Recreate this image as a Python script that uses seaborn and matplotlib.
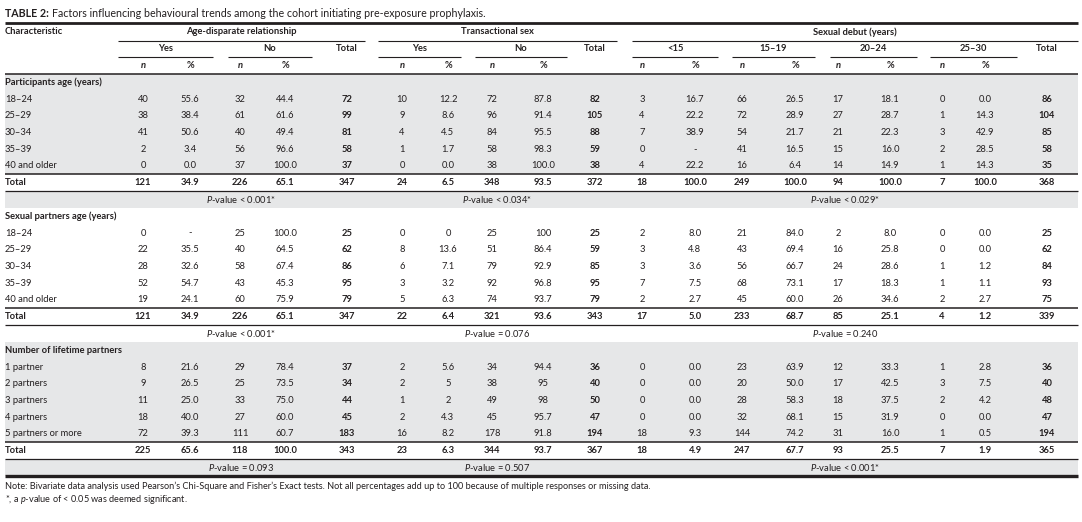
import matplotlib
matplotlib.use("Agg")
import matplotlib.pyplot as plt
import seaborn as sns
from matplotlib import font_manager

# ---------------- data ----------------
title_bold = "TABLE 2:"
title_rest = "Factors influencing behavioural trends among the cohort initiating pre-exposure prophylaxis."

groups = ["Age-disparate relationship", "Transactional sex", "Sexual debut (years)"]
sub_age = ["Yes", "No"]
sub_trans = ["Yes", "No"]
sub_debut = ["<15", "15\u201319", "20\u201324", "25\u201330"]

sec1_title = "Participants age (years)"
sec1_rows = ["18\u201324", "25\u201329", "30\u201334", "35\u201339", "40 and older", "Total"]
sec1_age_yes_n = ["40", "38", "41", "2", "0", "121"]
sec1_age_yes_p = ["55.6", "38.4", "50.6", "3.4", "0.0", "34.9"]
sec1_age_no_n = ["32", "61", "40", "56", "37", "226"]
sec1_age_no_p = ["44.4", "61.6", "49.4", "96.6", "100.0", "65.1"]
sec1_age_tot = ["72", "99", "81", "58", "37", "347"]
sec1_tr_yes_n = ["10", "9", "4", "1", "0", "24"]
sec1_tr_yes_p = ["12.2", "8.6", "4.5", "1.7", "0.0", "6.5"]
sec1_tr_no_n = ["72", "96", "84", "58", "38", "348"]
sec1_tr_no_p = ["87.8", "91.4", "95.5", "98.3", "100.0", "93.5"]
sec1_tr_tot = ["82", "105", "88", "59", "38", "372"]
sec1_d15_n = ["3", "4", "7", "0", "4", "18"]
sec1_d15_p = ["16.7", "22.2", "38.9", "-", "22.2", "100.0"]
sec1_d19_n = ["66", "72", "54", "41", "16", "249"]
sec1_d19_p = ["26.5", "28.9", "21.7", "16.5", "6.4", "100.0"]
sec1_d24_n = ["17", "27", "21", "15", "14", "94"]
sec1_d24_p = ["18.1", "28.7", "22.3", "16.0", "14.9", "100.0"]
sec1_d30_n = ["0", "1", "3", "2", "1", "7"]
sec1_d30_p = ["0.0", "14.3", "42.9", "28.5", "14.3", "100.0"]
sec1_d_tot = ["86", "104", "85", "58", "35", "368"]
sec1_pvals = ["< 0.001*", "< 0.034*", "< 0.029*"]

sec2_title = "Sexual partners age (years)"
sec2_rows = ["18\u201324", "25\u201329", "30\u201334", "35\u201339", "40 and older", "Total"]
sec2_age_yes_n = ["0", "22", "28", "52", "19", "121"]
sec2_age_yes_p = ["-", "35.5", "32.6", "54.7", "24.1", "34.9"]
sec2_age_no_n = ["25", "40", "58", "43", "60", "226"]
sec2_age_no_p = ["100.0", "64.5", "67.4", "45.3", "75.9", "65.1"]
sec2_age_tot = ["25", "62", "86", "95", "79", "347"]
sec2_tr_yes_n = ["0", "8", "6", "3", "5", "22"]
sec2_tr_yes_p = ["0", "13.6", "7.1", "3.2", "6.3", "6.4"]
sec2_tr_no_n = ["25", "51", "79", "92", "74", "321"]
sec2_tr_no_p = ["100", "86.4", "92.9", "96.8", "93.7", "93.6"]
sec2_tr_tot = ["25", "59", "85", "95", "79", "343"]
sec2_d15_n = ["2", "3", "3", "7", "2", "17"]
sec2_d15_p = ["8.0", "4.8", "3.6", "7.5", "2.7", "5.0"]
sec2_d19_n = ["21", "43", "56", "68", "45", "233"]
sec2_d19_p = ["84.0", "69.4", "66.7", "73.1", "60.0", "68.7"]
sec2_d24_n = ["2", "16", "24", "17", "26", "85"]
sec2_d24_p = ["8.0", "25.8", "28.6", "18.3", "34.6", "25.1"]
sec2_d30_n = ["0", "0", "1", "1", "2", "4"]
sec2_d30_p = ["0.0", "0.0", "1.2", "1.1", "2.7", "1.2"]
sec2_d_tot = ["25", "62", "84", "93", "75", "339"]
sec2_pvals = ["< 0.001*", "= 0.076", "= 0.240"]

sec3_title = "Number of lifetime partners"
sec3_rows = ["1 partner", "2 partners", "3 partners", "4 partners", "5 partners or more", "Total"]
sec3_age_yes_n = ["8", "9", "11", "18", "72", "225"]
sec3_age_yes_p = ["21.6", "26.5", "25.0", "40.0", "39.3", "65.6"]
sec3_age_no_n = ["29", "25", "33", "27", "111", "118"]
sec3_age_no_p = ["78.4", "73.5", "75.0", "60.0", "60.7", "100.0"]
sec3_age_tot = ["37", "34", "44", "45", "183", "343"]
sec3_tr_yes_n = ["2", "2", "1", "2", "16", "23"]
sec3_tr_yes_p = ["5.6", "5", "2", "4.3", "8.2", "6.3"]
sec3_tr_no_n = ["34", "38", "49", "45", "178", "344"]
sec3_tr_no_p = ["94.4", "95", "98", "95.7", "91.8", "93.7"]
sec3_tr_tot = ["36", "40", "50", "47", "194", "367"]
sec3_d15_n = ["0", "0", "0", "0", "18", "18"]
sec3_d15_p = ["0.0", "0.0", "0.0", "0.0", "9.3", "4.9"]
sec3_d19_n = ["23", "20", "28", "32", "144", "247"]
sec3_d19_p = ["63.9", "50.0", "58.3", "68.1", "74.2", "67.7"]
sec3_d24_n = ["12", "17", "18", "15", "31", "93"]
sec3_d24_p = ["33.3", "42.5", "37.5", "31.9", "16.0", "25.5"]
sec3_d30_n = ["1", "3", "2", "0", "1", "7"]
sec3_d30_p = ["2.8", "7.5", "4.2", "0.0", "0.5", "1.9"]
sec3_d_tot = ["36", "40", "48", "47", "194", "365"]
sec3_pvals = ["= 0.093", "= 0.507", "< 0.001*"]

note_1 = ("Note: Bivariate data analysis used Pearson\u2019s Chi-Square and Fisher\u2019s Exact tests. "
          "Not all percentages add up to 100 because of multiple responses or missing data.")
note_2 = "*, a $p$-value of < 0.05 was deemed significant."

# ---------------- style ----------------
sns.set_theme(style="white")
names = {f.name for f in font_manager.fontManager.ttflist}
if "Liberation Sans Narrow" in names:
    FAM, SC = "Liberation Sans Narrow", 1.0
else:
    FAM, SC = "Lato", 0.93
plt.rcParams["font.family"] = [FAM, "DejaVu Sans"]
plt.rcParams["mathtext.fontset"] = "custom"
plt.rcParams["mathtext.rm"] = FAM
plt.rcParams["mathtext.it"] = FAM + ":italic"
plt.rcParams["mathtext.bf"] = FAM + ":bold"

FS = 7.3 * SC
FS_T = 8.2 * SC
FS_N = 7.1 * SC
INK = "#231f20"
GREY = "#e6e7e8"

W, H = 1082, 522
fig = plt.figure(figsize=(W / 100, H / 100), dpi=100)
ax = fig.add_axes([0, 0, 1, 1])
ax.set_xlim(0, W)
ax.set_ylim(H, 0)
ax.axis("off")

X0, X1 = 5, 1078
RH = 16.75


def ry(i):
    return 32 + i * RH


def txt(x, y, s, ha="center", bold=False, italic=False, fs=FS):
    return ax.text(x, y, s, ha=ha, va="center", fontsize=fs, color=INK,
                   fontweight="bold" if bold else "normal",
                   fontstyle="italic" if italic else "normal")


def hline(y, a, b, lw):
    ax.plot([a, b], [y, y], color=INK, lw=lw, solid_capstyle="butt")


def band(i0, i1):
    ax.axhspan(ry(i0) - RH / 2, ry(i1) + RH / 2, xmin=X0 / W, xmax=X1 / W,
               color=GREY, lw=0, zorder=0)


cols = [143, 190, 240, 285, 347, 402, 448, 492, 543, 595,
        642, 695, 742, 795, 838, 890, 942, 985, 1047]
group_spans = [(118, 365), (378, 617), (632, X1)]
sub_spans = [(118, 213), (228, 312), (378, 461), (475, 567),
             (632, 718), (732, 815), (830, 917), (930, 1017)]
total_cols = {4, 9, 18}

# ---------------- title ----------------
t1 = txt(X0, 13.5, title_bold, ha="left", bold=True, fs=FS_T)
fig.canvas.draw()
bb = t1.get_window_extent(fig.canvas.get_renderer())
txt(bb.x1 + 3, 13.5, title_rest, ha="left", fs=FS_T)

# ---------------- header ----------------
hline(22.5, X0, X1, 2.0)
txt(X0, ry(0), "Characteristic", ha="left", bold=True)
for g, (a, b) in zip(groups, group_spans):
    txt((a + b) / 2, ry(0), g, bold=True)
    hline(40.5, a, b, 0.8)
sub_labels = sub_age + sub_trans + sub_debut
for s, (a, b) in zip(sub_labels, sub_spans):
    txt((a + b) / 2, ry(1), s, bold=True)
    hline(57.3, a, b, 0.8)
for c in total_cols:
    txt(cols[c], ry(1), "Total", bold=True)
for k, c in enumerate(cols):
    if k in total_cols:
        continue
    if k in (0, 2, 5, 7, 10, 12, 14, 16):
        txt(c, ry(2), "n", bold=True, italic=True)
    else:
        txt(c, ry(2), "%", bold=True)
hline(ry(2) + RH / 2, X0, X1, 1.1)

# ---------------- body ----------------
sections = [
    (3, sec1_title, sec1_rows,
     [sec1_age_yes_n, sec1_age_yes_p, sec1_age_no_n, sec1_age_no_p, sec1_age_tot,
      sec1_tr_yes_n, sec1_tr_yes_p, sec1_tr_no_n, sec1_tr_no_p, sec1_tr_tot,
      sec1_d15_n, sec1_d15_p, sec1_d19_n, sec1_d19_p, sec1_d24_n, sec1_d24_p,
      sec1_d30_n, sec1_d30_p, sec1_d_tot], sec1_pvals, True),
    (11, sec2_title, sec2_rows,
     [sec2_age_yes_n, sec2_age_yes_p, sec2_age_no_n, sec2_age_no_p, sec2_age_tot,
      sec2_tr_yes_n, sec2_tr_yes_p, sec2_tr_no_n, sec2_tr_no_p, sec2_tr_tot,
      sec2_d15_n, sec2_d15_p, sec2_d19_n, sec2_d19_p, sec2_d24_n, sec2_d24_p,
      sec2_d30_n, sec2_d30_p, sec2_d_tot], sec2_pvals, False),
    (19, sec3_title, sec3_rows,
     [sec3_age_yes_n, sec3_age_yes_p, sec3_age_no_n, sec3_age_no_p, sec3_age_tot,
      sec3_tr_yes_n, sec3_tr_yes_p, sec3_tr_no_n, sec3_tr_no_p, sec3_tr_tot,
      sec3_d15_n, sec3_d15_p, sec3_d19_n, sec3_d19_p, sec3_d24_n, sec3_d24_p,
      sec3_d30_n, sec3_d30_p, sec3_d_tot], sec3_pvals, True),
]

pv_centers = [241, 497, 845]
for start, title, rows, data, pvals, shaded in sections:
    n = len(rows)
    total_i = start + n
    if shaded:
        band(start, total_i - 1)
        band(total_i + 1, total_i + 1)
    txt(X0, ry(start), title, ha="left", bold=True)
    for r, lab in enumerate(rows):
        i = start + 1 + r
        is_tot = lab == "Total"
        txt(X0, ry(i), lab, ha="left", bold=is_tot)
        for k, colvals in enumerate(data):
            txt(cols[k], ry(i), colvals[r], bold=is_tot or k in total_cols)
    hline(ry(total_i) - RH / 2, X0, X1, 1.1)
    hline(ry(total_i) + RH / 2, X0, X1, 0.9)
    for pc, pv in zip(pv_centers, pvals):
        txt(pc, ry(total_i + 1), "$P$-value " + pv)

hline(ry(26) + RH / 2, X0, X1, 2.4)

# ---------------- notes ----------------
txt(X0, 486, note_1, ha="left", fs=FS_N)
txt(X0, 499, note_2, ha="left", fs=FS_N)

fig.savefig("out.png", dpi=100)
